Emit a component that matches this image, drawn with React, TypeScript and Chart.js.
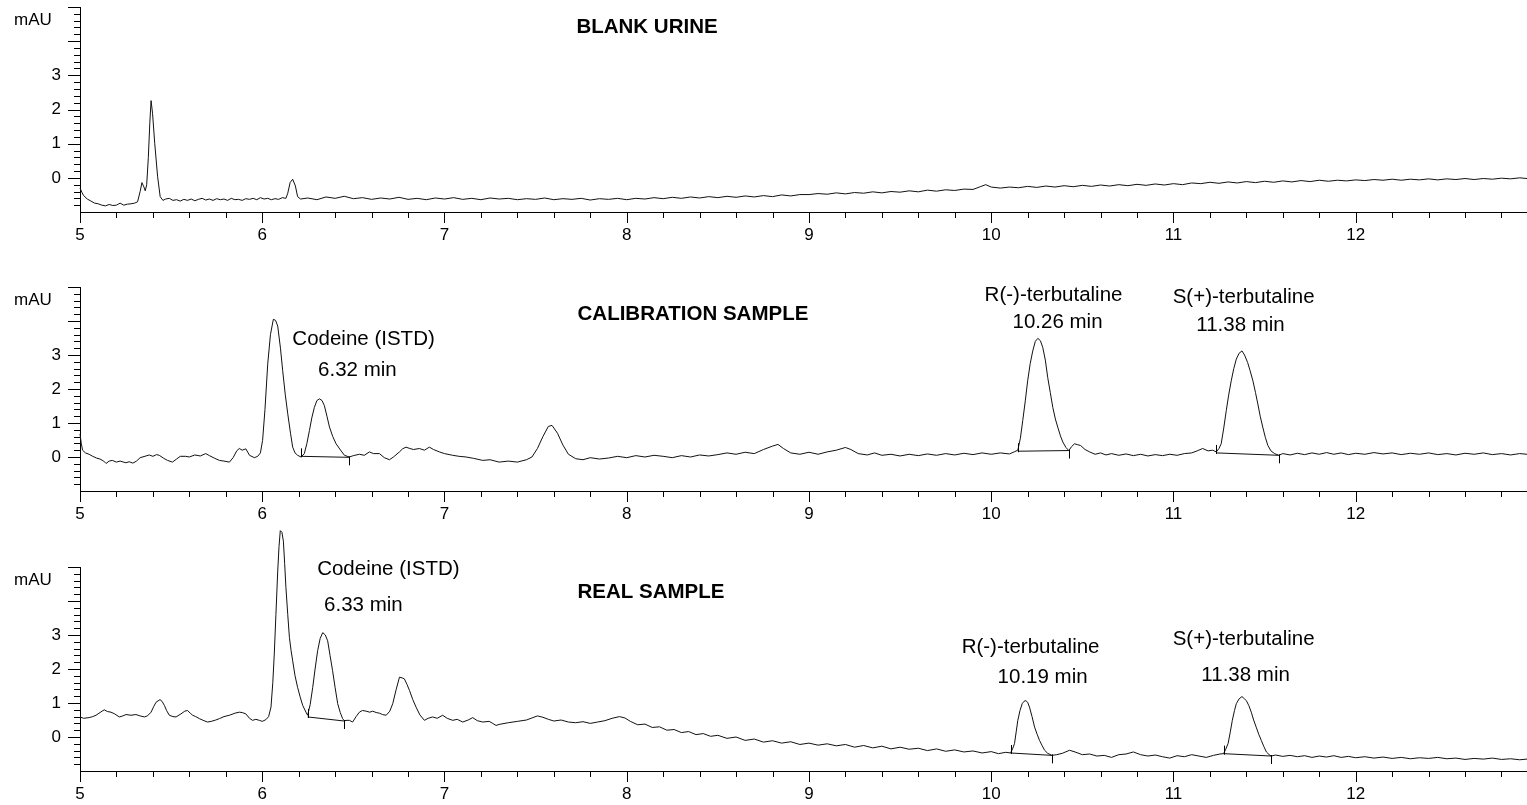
import { useEffect, useRef } from "react";
import { Chart, registerables } from "chart.js";

Chart.register(...registerables);

const FONT = "'Liberation Sans', Arial, Helvetica, sans-serif";

// ---------- axis definitions ----------
const X_MIN = 5;
const X_MAX = 12.94;
const X_STEP = 0.2;
const X_LABELLED = [5, 6, 7, 8, 9, 10, 11, 12];
const Y_MIN = -1;
const Y_MAX = 5;
const Y_STEP = 0.2;
const Y_LABELLED = [0, 1, 2, 3];
const Y_UNIT = "mAU";

// ---------- titles ----------
const TITLES = ["BLANK URINE", "CALIBRATION SAMPLE", "REAL SAMPLE"];

// ---------- BLANK URINE trace [min, mAU] ----------
const BLANK_TRACE: [number, number][] = [
  [5.0, -0.3], [5.01, -0.42], [5.02, -0.52], [5.04, -0.62], [5.06, -0.68], [5.08, -0.74],
  [5.1, -0.76], [5.12, -0.8], [5.14, -0.82], [5.16, -0.78], [5.18, -0.81], [5.2, -0.8],
  [5.22, -0.74], [5.24, -0.8], [5.26, -0.77], [5.28, -0.76], [5.3, -0.74], [5.316, -0.7],
  [5.33, -0.4], [5.34, -0.14], [5.35, -0.26], [5.358, -0.38], [5.366, -0.2], [5.375, 0.6],
  [5.383, 1.6], [5.39, 2.26], [5.398, 1.89], [5.41, 1.01], [5.426, 0.03], [5.44, -0.55],
  [5.455, -0.66], [5.47, -0.62], [5.49, -0.6], [5.51, -0.66], [5.53, -0.64], [5.55, -0.68],
  [5.57, -0.63], [5.59, -0.66], [5.61, -0.62], [5.63, -0.67], [5.65, -0.63], [5.67, -0.6],
  [5.69, -0.65], [5.71, -0.62], [5.73, -0.66], [5.75, -0.61], [5.77, -0.64], [5.79, -0.62],
  [5.81, -0.66], [5.83, -0.6], [5.85, -0.64], [5.87, -0.63], [5.89, -0.66], [5.91, -0.61],
  [5.93, -0.63], [5.95, -0.6], [5.97, -0.64], [5.99, -0.58], [6.01, -0.62], [6.03, -0.6],
  [6.05, -0.64], [6.07, -0.61], [6.09, -0.63], [6.11, -0.58], [6.13, -0.6], [6.14, -0.45],
  [6.153, -0.14], [6.167, -0.04], [6.182, -0.24], [6.194, -0.55], [6.21, -0.62], [6.25, -0.59],
  [6.3, -0.64], [6.35, -0.56], [6.4, -0.6], [6.45, -0.54], [6.5, -0.61], [6.55, -0.58],
  [6.6, -0.63], [6.65, -0.59], [6.7, -0.62], [6.75, -0.57], [6.8, -0.63], [6.85, -0.6],
  [6.9, -0.64], [6.95, -0.59], [7.0, -0.62], [7.05, -0.58], [7.1, -0.63], [7.15, -0.6],
  [7.2, -0.64], [7.25, -0.59], [7.3, -0.62], [7.35, -0.6], [7.4, -0.64], [7.45, -0.61],
  [7.5, -0.63], [7.55, -0.59], [7.6, -0.64], [7.65, -0.61], [7.7, -0.63], [7.75, -0.6],
  [7.8, -0.65], [7.85, -0.61], [7.9, -0.63], [7.95, -0.6], [8.0, -0.64], [8.05, -0.6],
  [8.1, -0.62], [8.15, -0.58], [8.2, -0.61], [8.25, -0.57], [8.3, -0.6], [8.35, -0.56],
  [8.4, -0.59], [8.45, -0.55], [8.5, -0.58], [8.55, -0.54], [8.6, -0.57], [8.65, -0.53],
  [8.7, -0.56], [8.75, -0.52], [8.8, -0.55], [8.85, -0.5], [8.9, -0.53], [8.95, -0.49],
  [9.0, -0.49], [9.05, -0.46], [9.1, -0.48], [9.15, -0.44], [9.2, -0.47], [9.25, -0.43],
  [9.3, -0.45], [9.35, -0.41], [9.4, -0.44], [9.45, -0.4], [9.5, -0.42], [9.55, -0.38],
  [9.6, -0.41], [9.65, -0.36], [9.7, -0.39], [9.75, -0.35], [9.8, -0.37], [9.85, -0.33],
  [9.9, -0.34], [9.94, -0.26], [9.97, -0.2], [10.0, -0.27], [10.05, -0.3], [10.1, -0.27],
  [10.15, -0.29], [10.2, -0.25], [10.25, -0.28], [10.3, -0.24], [10.35, -0.27], [10.4, -0.23],
  [10.45, -0.26], [10.5, -0.22], [10.55, -0.25], [10.6, -0.21], [10.65, -0.24], [10.7, -0.2],
  [10.75, -0.23], [10.8, -0.19], [10.85, -0.22], [10.9, -0.18], [10.95, -0.21], [11.0, -0.17],
  [11.05, -0.2], [11.1, -0.15], [11.15, -0.17], [11.2, -0.13], [11.25, -0.16], [11.3, -0.12],
  [11.35, -0.15], [11.4, -0.11], [11.45, -0.14], [11.5, -0.1], [11.55, -0.13], [11.6, -0.09],
  [11.65, -0.12], [11.7, -0.08], [11.75, -0.11], [11.8, -0.07], [11.85, -0.1], [11.9, -0.07],
  [11.95, -0.09], [12.0, -0.06], [12.05, -0.08], [12.1, -0.05], [12.15, -0.07], [12.2, -0.04],
  [12.25, -0.07], [12.3, -0.04], [12.35, -0.06], [12.4, -0.03], [12.45, -0.06], [12.5, -0.03],
  [12.55, -0.05], [12.6, -0.02], [12.65, -0.05], [12.7, -0.02], [12.75, -0.04], [12.8, -0.01],
  [12.85, -0.03], [12.9, 0.0], [12.94, -0.02],
];

// ---------- CALIBRATION SAMPLE trace ----------
const CAL_TRACE: [number, number][] = [
  [5.0, 0.68], [5.007, 0.4], [5.014, 0.2], [5.03, 0.12], [5.05, 0.08], [5.07, 0.02],
  [5.09, -0.03], [5.11, -0.06], [5.13, -0.12], [5.143, -0.19], [5.16, -0.12], [5.177, -0.1],
  [5.2, -0.15], [5.22, -0.12], [5.252, -0.17], [5.27, -0.14], [5.29, -0.18], [5.31, -0.12],
  [5.33, -0.02], [5.362, 0.03], [5.38, 0.06], [5.4, 0.02], [5.42, 0.07], [5.435, 0.05],
  [5.46, -0.04], [5.48, -0.1], [5.507, -0.15], [5.53, -0.06], [5.55, 0.02], [5.58, 0.02],
  [5.6, 0.0], [5.63, 0.06], [5.66, 0.03], [5.69, 0.1], [5.71, 0.04], [5.74, -0.04],
  [5.765, -0.1], [5.79, -0.12], [5.82, -0.15], [5.84, -0.02], [5.86, 0.18], [5.874, 0.25],
  [5.89, 0.2], [5.91, 0.24], [5.93, 0.05], [5.957, -0.02], [5.975, 0.02], [5.99, 0.12],
  [6.002, 0.49], [6.015, 1.4], [6.03, 2.73], [6.045, 3.6], [6.061, 4.05], [6.073, 4.02],
  [6.085, 3.85], [6.1, 3.2], [6.112, 2.55], [6.126, 1.85], [6.14, 1.27], [6.155, 0.7],
  [6.167, 0.29], [6.18, 0.12], [6.194, 0.05], [6.213, 0.0], [6.231, 0.1], [6.245, 0.4],
  [6.259, 0.78], [6.272, 1.15], [6.286, 1.46], [6.3, 1.66], [6.314, 1.71], [6.328, 1.66],
  [6.341, 1.51], [6.355, 1.2], [6.369, 0.88], [6.387, 0.6], [6.405, 0.39], [6.43, 0.2],
  [6.451, 0.05], [6.478, 0.0], [6.5, 0.04], [6.533, 0.08], [6.56, 0.05], [6.588, 0.15],
  [6.61, 0.1], [6.643, 0.1], [6.67, -0.02], [6.698, -0.08], [6.72, 0.0], [6.753, 0.15],
  [6.77, 0.24], [6.789, 0.29], [6.81, 0.25], [6.83, 0.22], [6.862, 0.25], [6.89, 0.2],
  [6.917, 0.29], [6.94, 0.22], [6.972, 0.15], [7.0, 0.1], [7.045, 0.05], [7.08, 0.02],
  [7.119, 0.0], [7.16, -0.04], [7.21, -0.1], [7.25, -0.08], [7.3, -0.15], [7.35, -0.12],
  [7.4, -0.15], [7.45, -0.08], [7.48, 0.0], [7.51, 0.25], [7.54, 0.6], [7.57, 0.9],
  [7.59, 0.93], [7.62, 0.7], [7.65, 0.35], [7.68, 0.08], [7.72, -0.05], [7.76, -0.08],
  [7.8, -0.02], [7.85, -0.06], [7.9, -0.03], [7.95, 0.02], [8.0, -0.02], [8.05, 0.04],
  [8.1, 0.0], [8.15, 0.05], [8.2, 0.02], [8.25, -0.02], [8.3, 0.04], [8.35, 0.0],
  [8.4, 0.06], [8.45, 0.03], [8.5, 0.07], [8.55, 0.12], [8.6, 0.08], [8.65, 0.14],
  [8.7, 0.1], [8.75, 0.22], [8.8, 0.32], [8.83, 0.37], [8.86, 0.25], [8.9, 0.12],
  [8.95, 0.08], [9.0, 0.14], [9.05, 0.08], [9.1, 0.15], [9.15, 0.2], [9.2, 0.28],
  [9.23, 0.22], [9.27, 0.1], [9.32, 0.06], [9.36, 0.12], [9.4, 0.05], [9.45, 0.08],
  [9.5, 0.03], [9.55, 0.08], [9.6, 0.04], [9.65, 0.09], [9.7, 0.05], [9.75, 0.1],
  [9.8, 0.06], [9.85, 0.11], [9.9, 0.07], [9.95, 0.12], [10.0, 0.08], [10.05, 0.12],
  [10.1, 0.09], [10.13, 0.16], [10.146, 0.2], [10.16, 0.55], [10.173, 1.07], [10.187, 1.65],
  [10.2, 2.24], [10.214, 2.75], [10.228, 3.12], [10.242, 3.4], [10.256, 3.49], [10.27, 3.42],
  [10.283, 3.22], [10.297, 2.85], [10.31, 2.34], [10.324, 1.9], [10.338, 1.46], [10.352, 1.12],
  [10.365, 0.88], [10.38, 0.62], [10.393, 0.44], [10.41, 0.28], [10.426, 0.19], [10.44, 0.3],
  [10.457, 0.39], [10.475, 0.36], [10.49, 0.34], [10.515, 0.22], [10.54, 0.15], [10.57, 0.08],
  [10.6, 0.12], [10.63, 0.06], [10.66, 0.1], [10.7, 0.05], [10.74, 0.09], [10.78, 0.04],
  [10.82, 0.08], [10.86, 0.03], [10.9, 0.07], [10.94, 0.04], [10.98, 0.08], [11.02, 0.05],
  [11.06, 0.1], [11.1, 0.12], [11.13, 0.18], [11.16, 0.25], [11.19, 0.18], [11.215, 0.2],
  [11.235, 0.15], [11.25, 0.25], [11.262, 0.39], [11.276, 0.85], [11.29, 1.37], [11.303, 1.82],
  [11.317, 2.24], [11.331, 2.6], [11.345, 2.88], [11.36, 3.05], [11.376, 3.12], [11.39, 3.0],
  [11.407, 2.78], [11.42, 2.55], [11.436, 2.24], [11.45, 1.9], [11.463, 1.56], [11.476, 1.2],
  [11.49, 0.88], [11.504, 0.58], [11.518, 0.34], [11.535, 0.18], [11.555, 0.1], [11.578, 0.05],
  [11.6, 0.1], [11.64, 0.06], [11.68, 0.11], [11.72, 0.07], [11.76, 0.12], [11.8, 0.08],
  [11.84, 0.13], [11.88, 0.08], [11.92, 0.12], [11.96, 0.07], [12.0, 0.11], [12.05, 0.08],
  [12.1, 0.13], [12.15, 0.09], [12.2, 0.12], [12.25, 0.07], [12.3, 0.11], [12.35, 0.08],
  [12.4, 0.12], [12.45, 0.07], [12.5, 0.1], [12.55, 0.06], [12.6, 0.11], [12.65, 0.08],
  [12.7, 0.12], [12.75, 0.07], [12.8, 0.1], [12.85, 0.06], [12.9, 0.1], [12.94, 0.08],
];

// ---------- REAL SAMPLE trace ----------
const REAL_TRACE: [number, number][] = [
  [5.0, 0.59], [5.02, 0.55], [5.05, 0.57], [5.07, 0.6], [5.088, 0.64], [5.11, 0.72],
  [5.133, 0.8], [5.15, 0.75], [5.17, 0.73], [5.19, 0.68], [5.216, 0.59], [5.235, 0.62],
  [5.252, 0.66], [5.28, 0.64], [5.307, 0.66], [5.33, 0.62], [5.353, 0.59], [5.37, 0.62],
  [5.39, 0.73], [5.405, 0.9], [5.417, 1.02], [5.439, 1.1], [5.45, 1.05], [5.463, 0.93],
  [5.475, 0.78], [5.49, 0.64], [5.51, 0.6], [5.527, 0.59], [5.554, 0.68], [5.575, 0.76],
  [5.59, 0.78], [5.605, 0.7], [5.618, 0.64], [5.635, 0.6], [5.655, 0.54], [5.68, 0.48],
  [5.7, 0.44], [5.72, 0.46], [5.745, 0.5], [5.765, 0.54], [5.79, 0.6], [5.82, 0.64],
  [5.85, 0.7], [5.874, 0.73], [5.89, 0.72], [5.91, 0.68], [5.93, 0.55], [5.947, 0.49],
  [5.965, 0.52], [5.984, 0.49], [6.0, 0.46], [6.02, 0.51], [6.035, 0.6], [6.048, 0.88],
  [6.058, 1.6], [6.066, 2.44], [6.075, 3.6], [6.085, 4.88], [6.092, 5.6], [6.099, 6.07],
  [6.108, 6.02], [6.116, 5.76], [6.123, 5.1], [6.13, 4.39], [6.14, 3.6], [6.149, 2.93],
  [6.158, 2.55], [6.167, 2.24], [6.18, 1.8], [6.194, 1.46], [6.208, 1.18], [6.222, 0.93],
  [6.24, 0.73], [6.249, 0.64], [6.263, 0.95], [6.277, 1.46], [6.29, 2.0], [6.304, 2.54],
  [6.318, 2.9], [6.332, 3.07], [6.346, 3.0], [6.359, 2.83], [6.372, 2.4], [6.386, 1.95],
  [6.4, 1.45], [6.414, 0.98], [6.428, 0.72], [6.441, 0.54], [6.45, 0.48], [6.465, 0.49],
  [6.478, 0.49], [6.496, 0.44], [6.515, 0.6], [6.533, 0.73], [6.55, 0.78], [6.57, 0.76],
  [6.59, 0.73], [6.606, 0.76], [6.625, 0.72], [6.643, 0.7], [6.66, 0.66], [6.68, 0.64],
  [6.7, 0.76], [6.716, 0.98], [6.735, 1.4], [6.753, 1.76], [6.767, 1.74], [6.78, 1.71],
  [6.794, 1.55], [6.808, 1.37], [6.826, 1.1], [6.844, 0.88], [6.865, 0.65], [6.89, 0.49],
  [6.91, 0.55], [6.935, 0.59], [6.96, 0.55], [6.99, 0.64], [7.015, 0.55], [7.045, 0.49],
  [7.07, 0.52], [7.1, 0.44], [7.13, 0.5], [7.155, 0.57], [7.18, 0.48], [7.21, 0.44],
  [7.245, 0.46], [7.265, 0.4], [7.283, 0.34], [7.3, 0.37], [7.35, 0.42], [7.4, 0.46],
  [7.45, 0.5], [7.48, 0.56], [7.51, 0.62], [7.54, 0.58], [7.57, 0.52], [7.6, 0.47],
  [7.64, 0.5], [7.68, 0.44], [7.72, 0.42], [7.76, 0.45], [7.8, 0.4], [7.84, 0.44],
  [7.88, 0.48], [7.92, 0.55], [7.96, 0.6], [7.99, 0.56], [8.02, 0.46], [8.06, 0.36],
  [8.1, 0.38], [8.14, 0.28], [8.18, 0.3], [8.22, 0.2], [8.26, 0.22], [8.3, 0.13],
  [8.34, 0.16], [8.38, 0.07], [8.42, 0.1], [8.46, 0.02], [8.5, 0.05], [8.55, -0.04],
  [8.6, 0.0], [8.65, -0.1], [8.7, -0.06], [8.75, -0.15], [8.8, -0.11], [8.85, -0.18],
  [8.9, -0.14], [8.95, -0.22], [9.0, -0.18], [9.05, -0.24], [9.1, -0.2], [9.15, -0.26],
  [9.2, -0.22], [9.25, -0.3], [9.3, -0.25], [9.35, -0.32], [9.4, -0.27], [9.45, -0.35],
  [9.5, -0.3], [9.55, -0.36], [9.6, -0.33], [9.65, -0.4], [9.7, -0.35], [9.75, -0.42],
  [9.8, -0.38], [9.85, -0.44], [9.9, -0.41], [9.95, -0.47], [10.0, -0.43], [10.04, -0.49],
  [10.08, -0.45], [10.106, -0.47], [10.117, -0.35], [10.128, -0.19], [10.137, 0.15], [10.146, 0.49],
  [10.158, 0.78], [10.17, 0.98], [10.18, 1.05], [10.19, 1.07], [10.2, 1.02], [10.21, 0.88],
  [10.224, 0.6], [10.238, 0.29], [10.252, 0.08], [10.265, -0.1], [10.28, -0.26], [10.293, -0.39],
  [10.31, -0.48], [10.333, -0.54], [10.36, -0.52], [10.39, -0.48], [10.43, -0.39], [10.46, -0.44],
  [10.5, -0.52], [10.54, -0.5], [10.58, -0.56], [10.62, -0.54], [10.66, -0.6], [10.7, -0.52],
  [10.74, -0.5], [10.78, -0.44], [10.82, -0.52], [10.86, -0.56], [10.9, -0.53], [10.94, -0.58],
  [10.98, -0.62], [11.02, -0.55], [11.06, -0.58], [11.1, -0.52], [11.14, -0.56], [11.18, -0.6],
  [11.22, -0.54], [11.255, -0.5], [11.275, -0.49], [11.287, -0.36], [11.3, -0.19], [11.312, 0.15],
  [11.323, 0.49], [11.335, 0.78], [11.345, 0.98], [11.36, 1.12], [11.376, 1.19], [11.39, 1.12],
  [11.4, 1.07], [11.414, 0.92], [11.427, 0.73], [11.44, 0.5], [11.454, 0.29], [11.468, 0.08],
  [11.482, -0.1], [11.496, -0.28], [11.51, -0.44], [11.525, -0.52], [11.537, -0.56], [11.56, -0.53],
  [11.6, -0.57], [11.64, -0.54], [11.68, -0.58], [11.72, -0.55], [11.76, -0.6], [11.8, -0.56],
  [11.84, -0.59], [11.88, -0.55], [11.92, -0.6], [11.96, -0.57], [12.0, -0.61], [12.05, -0.58],
  [12.1, -0.62], [12.15, -0.59], [12.2, -0.63], [12.25, -0.6], [12.3, -0.64], [12.35, -0.61],
  [12.4, -0.63], [12.45, -0.6], [12.5, -0.64], [12.55, -0.62], [12.6, -0.66], [12.65, -0.63],
  [12.7, -0.65], [12.75, -0.62], [12.8, -0.66], [12.85, -0.64], [12.9, -0.67], [12.94, -0.65],
];

// ---------- integration baselines: [startMin, startMAU, endMin, endMAU] ----------
const CAL_INTEGRATION: [number, number, number, number][] = [
  [6.213, 0.02, 6.478, -0.01],
  [10.146, 0.17, 10.426, 0.19],
  [11.235, 0.12, 11.578, 0.05],
];
const REAL_INTEGRATION: [number, number, number, number][] = [
  [6.249, 0.59, 6.45, 0.47],
  [10.106, -0.47, 10.333, -0.54],
  [11.275, -0.49, 11.537, -0.56],
];

// ---------- peak annotations ----------
const CAL_NOTES = ["Codeine (ISTD)", "6.32 min", "R(-)-terbutaline", "10.26 min", "S(+)-terbutaline", "11.38 min"];
const REAL_NOTES = ["Codeine (ISTD)", "6.33 min", "R(-)-terbutaline", "10.19 min", "S(+)-terbutaline", "11.38 min"];

// anchors of the annotations in data units (layout, not data)
const CAL_NOTE_ANCHORS: [number, number][] = [
  [6.556, 3.47], [6.522, 2.54], [10.342, 4.76], [10.364, 3.97], [11.385, 4.7], [11.368, 3.86],
];
const REAL_NOTE_ANCHORS: [number, number][] = [
  [6.692, 4.94], [6.555, 3.88], [10.216, 2.63], [10.282, 1.75], [11.385, 2.86], [11.396, 1.81],
];
const TITLE_ANCHORS: [number, number][] = [[7.724, 4.41], [7.73, 4.21], [7.73, 4.26]];

type PanelSpec = {
  top: number;
  height: number;
  areaTop: number;
  areaBottom: number;
  title: string;
  titleAnchor: [number, number];
  trace: [number, number][];
  integration: [number, number, number, number][];
  notes: string[];
  noteAnchors: [number, number][];
};

const PANELS: PanelSpec[] = [
  { top: 0, height: 279, areaTop: 7, areaBottom: 212, title: TITLES[0], titleAnchor: TITLE_ANCHORS[0], trace: BLANK_TRACE, integration: [], notes: [], noteAnchors: [] },
  { top: 279, height: 250, areaTop: 8, areaBottom: 212, title: TITLES[1], titleAnchor: TITLE_ANCHORS[1], trace: CAL_TRACE, integration: CAL_INTEGRATION, notes: CAL_NOTES, noteAnchors: CAL_NOTE_ANCHORS },
  { top: 520, height: 285, areaTop: 47, areaBottom: 251, title: TITLES[2], titleAnchor: TITLE_ANCHORS[2], trace: REAL_TRACE, integration: REAL_INTEGRATION, notes: REAL_NOTES, noteAnchors: REAL_NOTE_ANCHORS },
];

const isWhole = (v: number) => Math.abs(v - Math.round(v)) < 1e-6;

function makeDecor(spec: PanelSpec) {
  return {
    id: "decor",
    afterDatasetsDraw(chart: any) {
      const ctx: CanvasRenderingContext2D = chart.ctx;
      const xs = chart.scales.x;
      const ys = chart.scales.y;
      const area = chart.chartArea;
      ctx.save();
      ctx.strokeStyle = "#000";
      ctx.lineWidth = 1;
      ctx.beginPath();
      // x ticks
      for (const tk of xs.ticks) {
        const v = tk.value;
        const px = Math.round(xs.getPixelForValue(v)) + 0.5;
        const len = isWhole(v) ? 11 : 6;
        ctx.moveTo(px, area.bottom);
        ctx.lineTo(px, area.bottom + len);
      }
      // y ticks
      for (const tk of ys.ticks) {
        const v = tk.value;
        if (v <= Y_MIN + 1e-6) continue;
        const py = Math.round(ys.getPixelForValue(v)) + 0.5;
        const len = isWhole(v) ? 12 : 6;
        ctx.moveTo(area.left, py);
        ctx.lineTo(area.left - len, py);
      }
      // integration start / end markers
      for (const seg of spec.integration) {
        const x0 = Math.round(xs.getPixelForValue(seg[0])) + 0.5;
        const y0 = ys.getPixelForValue(seg[1]);
        const x1 = Math.round(xs.getPixelForValue(seg[2])) + 0.5;
        const y1 = ys.getPixelForValue(seg[3]);
        ctx.moveTo(x0, y0 + 1);
        ctx.lineTo(x0, y0 - 8);
        ctx.moveTo(x1, y1 - 1);
        ctx.lineTo(x1, y1 + 8);
      }
      ctx.stroke();

      ctx.fillStyle = "#000";
      // unit label
      ctx.font = `17px ${FONT}`;
      ctx.textAlign = "left";
      ctx.textBaseline = "middle";
      ctx.fillText(Y_UNIT, 14, area.top + 13);
      // title
      ctx.font = `bold 20.5px ${FONT}`;
      ctx.fillText(spec.title, xs.getPixelForValue(spec.titleAnchor[0]), ys.getPixelForValue(spec.titleAnchor[1]));
      // peak notes
      ctx.font = `20.5px ${FONT}`;
      ctx.textAlign = "center";
      spec.notes.forEach((txt, i) => {
        const a = spec.noteAnchors[i];
        ctx.fillText(txt, xs.getPixelForValue(a[0]), ys.getPixelForValue(a[1]));
      });
      ctx.restore();
    },
  };
}

function Panel({ spec }: { spec: PanelSpec }) {
  const ref = useRef<HTMLCanvasElement>(null);
  useEffect(() => {
    const canvas = ref.current!;
    const datasets: any[] = [
      {
        data: spec.trace.map(([x, y]) => ({ x, y })),
        borderColor: "#111",
        borderWidth: 1,
        pointRadius: 0,
        tension: 0,
        fill: false,
        clip: false,
      },
    ];
    for (const seg of spec.integration) {
      datasets.push({
        data: [
          { x: seg[0], y: seg[1] },
          { x: seg[2], y: seg[3] },
        ],
        borderColor: "#111",
        borderWidth: 1,
        pointRadius: 0,
        fill: false,
        clip: false,
      });
    }
    const chart = new Chart(canvas, {
      type: "line",
      data: { datasets },
      options: {
        animation: false,
        responsive: false,
        devicePixelRatio: 1,
        events: [],
        layout: { padding: { top: spec.areaTop, left: 0, right: 0, bottom: 0 } },
        plugins: { legend: { display: false }, tooltip: { enabled: false }, title: { display: false } },
        scales: {
          x: {
            type: "linear",
            min: X_MIN,
            max: X_MAX,
            grid: { display: false, drawTicks: false },
            border: { display: true, color: "#000", width: 1 },
            ticks: {
              stepSize: X_STEP,
              includeBounds: false,
              autoSkip: false,
              maxRotation: 0,
              minRotation: 0,
              padding: 13,
              color: "#000",
              font: { family: FONT, size: 17 },
              callback: (v: any) => {
                const n = Number(v);
                return isWhole(n) && X_LABELLED.includes(Math.round(n)) ? String(Math.round(n)) : "";
              },
            },
            afterFit: (scale: any) => {
              scale.height = spec.height - spec.areaBottom;
              scale.paddingLeft = 0;
              scale.paddingRight = 0;
              scale.paddingTop = 0;
              scale.paddingBottom = 0;
            },
          },
          y: {
            type: "linear",
            min: Y_MIN,
            max: Y_MAX,
            grid: { display: false, drawTicks: false },
            border: { display: true, color: "#000", width: 1 },
            ticks: {
              stepSize: Y_STEP,
              autoSkip: false,
              padding: 19,
              color: "#000",
              font: { family: FONT, size: 17 },
              callback: (v: any) => {
                const n = Number(v);
                return isWhole(n) && Y_LABELLED.includes(Math.round(n)) ? String(Math.round(n)) : "";
              },
            },
            afterFit: (scale: any) => {
              scale.width = 80;
              scale.paddingLeft = 0;
              scale.paddingRight = 0;
              scale.paddingTop = 0;
              scale.paddingBottom = 0;
            },
          },
        },
      } as any,
      plugins: [makeDecor(spec)],
    });
    return () => chart.destroy();
  }, [spec]);
  return (
    <canvas
      ref={ref}
      width={1527}
      height={spec.height}
      style={{ position: "absolute", left: 0, top: spec.top, width: 1527, height: spec.height, display: "block" }}
    />
  );
}

export default function App() {
  return (
    <div style={{ position: "fixed", left: 0, top: 0, width: 1527, height: 805, overflow: "hidden", background: "#fff" }}>
      {PANELS.map((p, i) => (
        <Panel key={i} spec={p} />
      ))}
    </div>
  );
}
